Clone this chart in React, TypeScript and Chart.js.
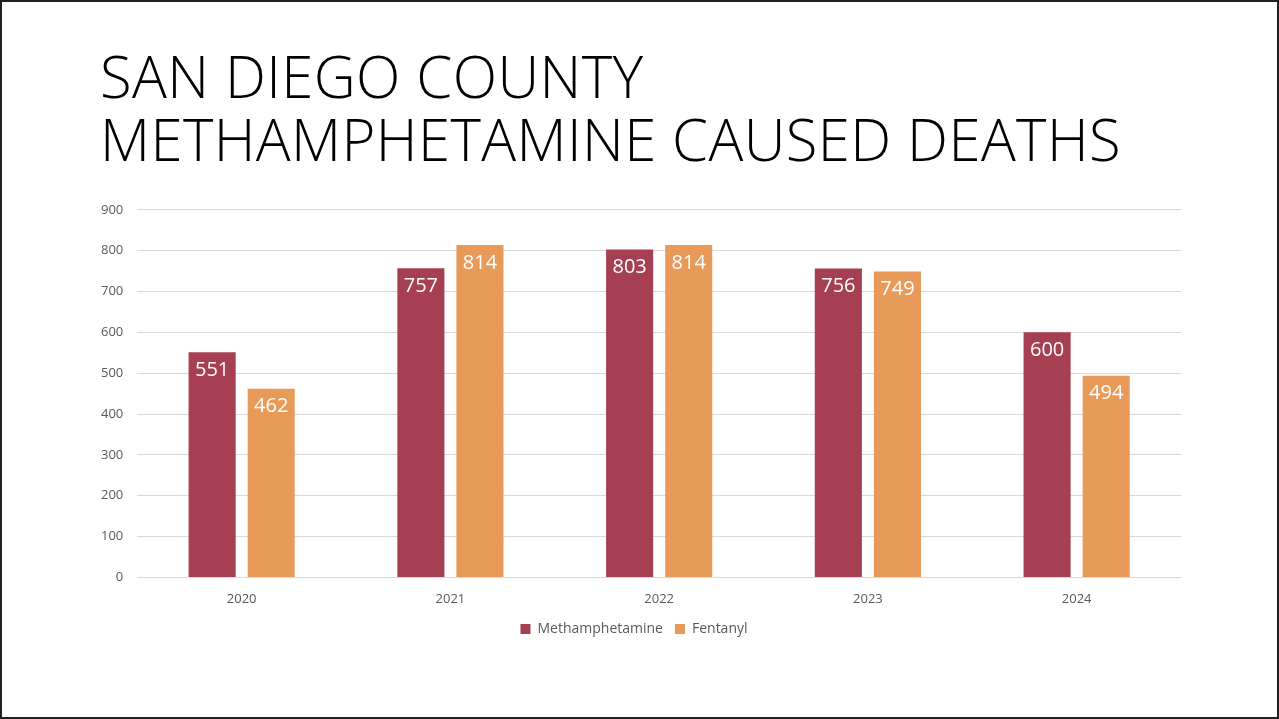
import React, { useEffect, useRef } from "react";
import { Chart, registerables } from "chart.js";

Chart.register(...registerables);

const years = ["2020", "2021", "2022", "2023", "2024"];
const methDeaths = [551, 757, 803, 756, 600];
const fentanylDeaths = [462, 814, 814, 749, 494];
const yTicks = [0, 100, 200, 300, 400, 500, 600, 700, 800, 900];

const METH_COLOR = "#A63F52";
const FENT_COLOR = "#E89A58";

const labelPlugin = {
  id: "insideLabels",
  afterDatasetsDraw(chart: any) {
    const ctx = chart.ctx;
    ctx.save();
    ctx.fillStyle = "#FFFFFF";
    ctx.font = "20px 'Open Sans', sans-serif";
    ctx.textAlign = "center";
    ctx.textBaseline = "middle";
    chart.data.datasets.forEach((ds: any, i: number) => {
      const meta = chart.getDatasetMeta(i);
      meta.data.forEach((bar: any, j: number) => {
        ctx.fillText(String(ds.data[j]), bar.x, bar.y + 18);
      });
    });
    ctx.restore();
  },
};

export default function App() {
  const ref = useRef<HTMLCanvasElement | null>(null);
  useEffect(() => {
    document.body.style.margin = "0";
    if (!ref.current) return;
    const chart = new Chart(ref.current, {
      type: "bar",
      data: {
        labels: years,
        datasets: [
          {
            label: "Methamphetamine",
            data: methDeaths,
            backgroundColor: METH_COLOR,
            categoryPercentage: 0.566,
            barPercentage: 0.797,
          },
          {
            label: "Fentanyl",
            data: fentanylDeaths,
            backgroundColor: FENT_COLOR,
            categoryPercentage: 0.566,
            barPercentage: 0.797,
          },
        ],
      },
      options: {
        animation: false,
        responsive: false,
        maintainAspectRatio: false,
        layout: { padding: { left: 0, right: 0, top: 8, bottom: 0 } },
        scales: {
          x: {
            grid: { display: false, drawTicks: false },
            border: { display: false },
            ticks: {
              color: "#595959",
              font: { family: "'Open Sans', sans-serif", size: 13 },
              padding: 14,
            },
            afterFit(axis: any) {
              axis.height -= 11;
            },
          },
          y: {
            min: 0,
            max: 900,
            afterBuildTicks(axis: any) {
              axis.ticks = yTicks.map((v) => ({ value: v }));
            },
            grid: { color: "#D9D9D9", lineWidth: 1, drawTicks: false },
            border: { display: false },
            ticks: {
              color: "#595959",
              font: { family: "'Open Sans', sans-serif", size: 13 },
              padding: 14,
            },
          },
        },
        plugins: {
          legend: {
            position: "bottom",
            labels: {
              boxWidth: 10,
              boxHeight: 10,
              color: "#595959",
              font: { family: "'Open Sans', sans-serif", size: 14 },
              padding: 12,
            },
          },
          tooltip: { enabled: false },
        },
      },
      plugins: [labelPlugin],
    });
    return () => chart.destroy();
  }, []);

  return (
    <div
      style={{
        position: "fixed",
        left: 0,
        top: 0,
        width: 1279,
        height: 719,
        boxSizing: "border-box",
        border: "2px solid #222",
        background: "#fff",
        overflow: "hidden",
      }}
    >
      <div
        style={{
          position: "absolute",
          left: 98,
          top: 42,
          fontFamily: "'Open Sans', sans-serif",
          fontWeight: 300,
          fontSize: 58,
          lineHeight: "63px",
          letterSpacing: 0.4,
          color: "#000",
          whiteSpace: "nowrap",
        }}
      >
        SAN DIEGO COUNTY
        <br />
        METHAMPHETAMINE CAUSED DEATHS
      </div>
      <canvas
        ref={ref}
        width={1094}
        height={458}
        style={{ position: "absolute", left: 85, top: 186, width: 1094, height: 458 }}
      />
    </div>
  );
}
